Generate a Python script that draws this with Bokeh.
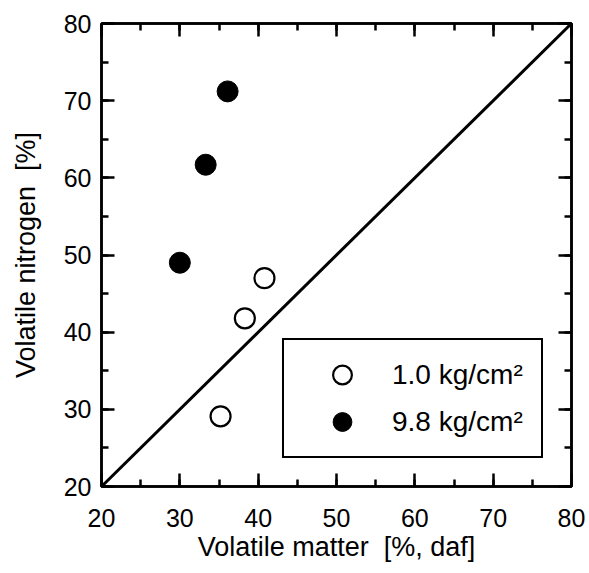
from bokeh.plotting import figure
from bokeh.models import LinearAxis, Legend, LegendItem, Range1d, SingleIntervalTicker
from bokeh.embed import file_html
from bokeh.resources import INLINE

# data
open_x = [35.2, 38.3, 40.8]
open_y = [29.1, 41.8, 47.0]
filled_x = [30.0, 33.3, 36.1]
filled_y = [49.0, 61.7, 71.2]
diag_x = [20, 80]
diag_y = [20, 80]
open_label = "1.0 kg/cm²"
filled_label = "9.8 kg/cm²"
x_title = "Volatile matter \u00a0[%, daf]"
y_title = "Volatile nitrogen \u00a0[%]"

FONT = "Liberation Sans"

p = figure(width=585, height=572, output_backend="svg", toolbar_location=None,
           x_range=Range1d(20, 80), y_range=Range1d(20, 80),
           x_axis_location=None, y_axis_location=None,
           min_border_left=101, min_border_right=14, min_border_top=23, min_border_bottom=86)
p.xgrid.visible = False
p.ygrid.visible = False
p.outline_line_color = "black"
p.outline_line_width = 2.5
p.background_fill_color = "white"
p.border_fill_color = "white"


def style(ax, labels):
    ax.ticker = SingleIntervalTicker(interval=10, num_minor_ticks=2)
    ax.axis_line_color = "black"
    ax.axis_line_width = 2.5
    ax.major_tick_in = 13
    ax.major_tick_out = 0
    ax.minor_tick_in = 7
    ax.minor_tick_out = 0
    ax.major_tick_line_width = 2.5
    ax.minor_tick_line_width = 2.5
    ax.major_tick_line_color = "black"
    ax.minor_tick_line_color = "black"
    if labels:
        ax.major_label_text_font = FONT
        ax.major_label_text_font_size = "25px"
        ax.major_label_text_color = "black"
        ax.axis_label_text_font = FONT
        ax.axis_label_text_font_size = "27px"
        ax.axis_label_text_font_style = "normal"
        ax.axis_label_text_color = "black"
    else:
        ax.major_label_text_font_size = "0px"
        ax.major_label_text_color = None
        ax.major_label_standoff = 0


xb = LinearAxis(axis_label=x_title)
style(xb, True)
xb.major_label_standoff = 22
xb.axis_label_standoff = 2
p.add_layout(xb, "below")

yl = LinearAxis(axis_label=y_title)
style(yl, True)
yl.major_label_standoff = 10
yl.axis_label_standoff = 20
p.add_layout(yl, "left")

xa = LinearAxis()
style(xa, False)
p.add_layout(xa, "above")

yr = LinearAxis()
style(yr, False)
p.add_layout(yr, "right")

p.line(diag_x, diag_y, line_color="black", line_width=3)

r_open = p.scatter(open_x, open_y, marker="circle", size=20, fill_color="white",
                   line_color="black", line_width=2.2)
r_filled = p.scatter(filled_x, filled_y, marker="circle", size=21, fill_color="black",
                     line_color="black", line_width=1)

legend = Legend(items=[LegendItem(label=open_label, renderers=[r_open]),
                       LegendItem(label=filled_label, renderers=[r_filled])],
                location=(181, 28), orientation="vertical")
legend.border_line_color = "black"
legend.border_line_alpha = 1
legend.border_line_width = 2
legend.background_fill_color = "white"
legend.background_fill_alpha = 1
legend.padding = 11
legend.spacing = -12
legend.margin = 0
legend.glyph_width = 94
legend.glyph_height = 47
legend.label_height = 32
legend.label_width = 138
legend.label_standoff = 3
legend.label_text_font = FONT
legend.label_text_font_size = "28px"
legend.label_text_color = "black"
p.add_layout(legend)

open("out.html", "w").write(file_html(p, INLINE))
